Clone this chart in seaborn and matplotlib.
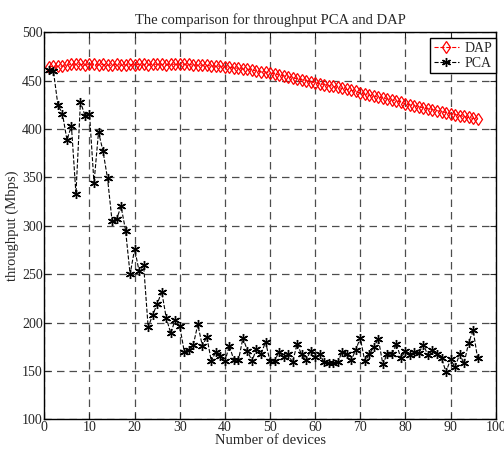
import numpy as np
import pandas as pd
import seaborn as sns
import matplotlib
matplotlib.use("Agg")
import matplotlib.pyplot as plt

# throughput (Mbps) vs number of devices
devices = list(range(1, 97))
dap = [464, 465, 465, 465, 466, 467, 467, 467, 466, 467,
       467, 466, 467, 466, 466, 467, 466, 466, 467, 466,
       467, 467, 466, 467, 467, 467, 466, 467, 467, 467,
       467, 467, 466, 466, 466, 466, 465, 465, 465, 464,
       464, 463, 463, 462, 462, 461, 460, 459, 459, 458,
       457, 456, 455, 454, 453, 452, 451, 450, 449, 448,
       447, 446, 445, 444, 443, 442, 441, 440, 439, 437,
       436, 435, 434, 433, 432, 431, 430, 429, 428, 426,
       425, 424, 423, 422, 421, 420, 419, 418, 417, 416,
       415, 414, 413, 412, 411, 410]
pca = [461, 460, 425, 416, 389, 403, 333, 428, 414, 416,
       344, 397, 377, 349, 305, 307, 320, 295, 250, 276,
       253, 259, 195, 208, 219, 232, 205, 189, 203, 196,
       170, 172, 177, 198, 176, 185, 160, 170, 165, 160,
       176, 161, 161, 184, 171, 160, 173, 167, 180, 160,
       160, 170, 164, 167, 159, 178, 167, 161, 171, 164,
       167, 159, 158, 158, 159, 170, 168, 161, 172, 184,
       160, 167, 175, 183, 157, 168, 167, 178, 163, 171,
       166, 170, 169, 177, 166, 172, 168, 163, 149, 162,
       154, 167, 158, 179, 192, 163]

df = pd.DataFrame({"devices": devices, "DAP": dap, "PCA": pca})

sns.set_style("ticks")
plt.rcParams["font.family"] = ["Liberation Serif", "DejaVu Serif"]
plt.rcParams["font.size"] = 10

fig = plt.figure(figsize=(5.04, 4.53), dpi=100)
ax = fig.add_axes([0.088, 0.0744, 0.8955, 0.8543])

sns.lineplot(data=df, x="devices", y="DAP", ax=ax, color="red", marker="d",
             markersize=6.5, markerfacecolor="none", markeredgecolor="red",
             markeredgewidth=0.9, linestyle="--", linewidth=0.8, label="DAP")
sns.lineplot(data=df, x="devices", y="PCA", ax=ax, color="black", marker=(6, 2, 0),
             markersize=6.5, markeredgecolor="black", markeredgewidth=1.0,
             linestyle="--", linewidth=0.8, label="PCA")

ax.set_xlim(0, 100)
ax.set_ylim(100, 500)
ax.set_xticks(range(0, 101, 10))
ax.set_yticks(range(100, 501, 50))
ax.grid(True, color="0.3", linestyle=(0, (6, 4)), linewidth=0.9)
ax.tick_params(direction="in", top=True, right=True, length=4, pad=1, labelsize=10)
for s in ax.spines.values():
    s.set_linewidth(1.0)
    s.set_color("black")

ax.set_title("The comparison for throughput PCA and DAP", fontsize=10.5, pad=6)
ax.set_xlabel("Number of devices", fontsize=10.5, labelpad=0)
ax.set_ylabel("throughput (Mbps)", fontsize=10.5, labelpad=2)

leg = ax.legend(loc="upper right", bbox_to_anchor=(1.0, 0.985), borderaxespad=0,
                fancybox=False, framealpha=1, edgecolor="black", fontsize=10,
                handlelength=1.8, handletextpad=0.4, borderpad=0.25, labelspacing=0.15)
leg.get_frame().set_linewidth(1.0)

fig.savefig("out.png", dpi=100)
